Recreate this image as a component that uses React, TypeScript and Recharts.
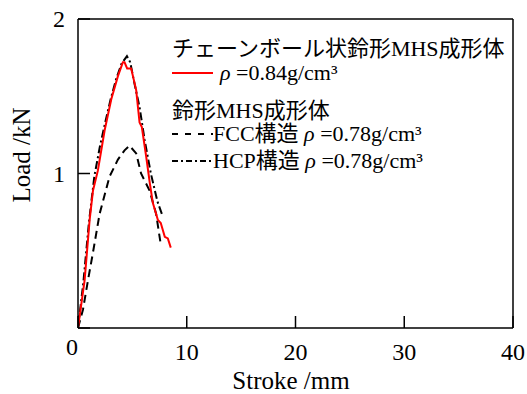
import { LineChart, Line, XAxis, YAxis, ReferenceLine } from 'recharts'

// チェーンボール状鈴形MHS成形体 ρ=0.84
const redX = [0, 0.61, 1.07, 1.38, 1.83, 2.45, 3.06, 3.67, 4.13, 4.28, 4.52, 4.89, 5.35, 5.66, 5.87, 6.27, 6.6, 6.88, 7.34, 7.61, 7.98, 8.26, 8.53]
const redY = [0, 0.31, 0.7, 0.89, 1.02, 1.28, 1.48, 1.63, 1.72, 1.72, 1.68, 1.68, 1.54, 1.33, 1.3, 1.11, 0.94, 0.81, 0.7, 0.68, 0.59, 0.58, 0.52]

// FCC構造 ρ=0.78
const fccX = [0, 0.46, 0.92, 1.38, 1.99, 2.9, 3.67, 4.28, 4.74, 5.35, 5.8, 6.58, 7.18, 7.59]
const fccY = [0, 0.12, 0.31, 0.49, 0.74, 0.98, 1.09, 1.15, 1.18, 1.13, 1.0, 0.89, 0.74, 0.55]

// HCP構造 ρ=0.78
const hcpX = [0, 0.5, 1.0, 1.5, 2.0, 2.5, 3.0, 3.5, 4.0, 4.5, 4.8, 5.2, 5.66, 6.12, 6.7, 7.3, 7.8]
const hcpY = [0, 0.3, 0.68, 0.98, 1.17, 1.33, 1.48, 1.61, 1.71, 1.76, 1.72, 1.58, 1.43, 1.22, 1.0, 0.82, 0.72]

const xTicks = [0, 10, 20, 30, 40]
const yTicks = [0, 1, 2]

const toPoints = (xs: number[], ys: number[]) => xs.map((x, i) => ({ x, y: ys[i] }))

const serif = '"Liberation Serif", "Noto Sans CJK JP", serif'

const XTick = (props: any) => {
    const { x, y, payload } = props
    const isZero = payload.value === 0
    return (
        <g>
            <line x1={x} y1={y} x2={x} y2={y - 12} stroke="#000" strokeWidth={1.5} />
            <text
                x={isZero ? x - 6 : x}
                y={isZero ? y + 27 : y + 32}
                textAnchor="middle"
                fontFamily={serif}
                fontSize={24}
                fill="#000"
            >
                {payload.value}
            </text>
        </g>
    )
}

const YTick = (props: any) => {
    const { x, y, payload } = props
    return (
        <g>
            <line x1={x} y1={y} x2={x + 12} y2={y} stroke="#000" strokeWidth={1.5} />
            {payload.value !== 0 && (
                <text x={x - 13} y={y + 8} textAnchor="end" fontFamily={serif} fontSize={24} fill="#000">
                    {payload.value}
                </text>
            )}
        </g>
    )
}

const row = (top: number): React.CSSProperties => ({
    position: 'absolute',
    left: 172,
    top,
    height: 24,
    lineHeight: '24px',
    whiteSpace: 'nowrap',
    display: 'flex',
    alignItems: 'center',
})

const Sample = ({ color, dash }: { color: string; dash?: string }) => (
    <svg width={41} height={24} style={{ display: 'block' }}>
        <line x1={0} y1={12} x2={41} y2={12} stroke={color} strokeWidth={2} strokeDasharray={dash} />
    </svg>
)

export default function App() {
    return (
        <div style={{ position: 'absolute', left: 0, top: 0, width: 527, height: 394, background: '#fff', fontFamily: serif, color: '#000' }}>
            <LineChart width={527} height={394} margin={{ top: 19, right: 14, bottom: 26, left: 48 }}>
                <XAxis
                    type="number"
                    dataKey="x"
                    domain={[0, 40]}
                    ticks={xTicks}
                    height={40}
                    tickSize={0}
                    tickMargin={0}
                    tick={<XTick />}
                    axisLine={{ stroke: '#000', strokeWidth: 1.5 }}
                    allowDataOverflow
                />
                <YAxis
                    type="number"
                    dataKey="y"
                    domain={[0, 2]}
                    ticks={yTicks}
                    width={30}
                    tickSize={0}
                    tickMargin={0}
                    tick={<YTick />}
                    axisLine={{ stroke: '#000', strokeWidth: 1.5 }}
                    allowDataOverflow
                />
                <ReferenceLine y={2} stroke="#000" strokeWidth={1.5} />
                <ReferenceLine x={40} stroke="#000" strokeWidth={1.5} />
                <Line
                    data={toPoints(fccX, fccY)}
                    dataKey="y"
                    type="linear"
                    stroke="#000"
                    strokeWidth={2}
                    strokeDasharray="8 5"
                    dot={false}
                    isAnimationActive={false}
                />
                <Line
                    data={toPoints(hcpX, hcpY)}
                    dataKey="y"
                    type="linear"
                    stroke="#000"
                    strokeWidth={2}
                    strokeDasharray="8 3 2 3"
                    dot={false}
                    isAnimationActive={false}
                />
                <Line
                    data={toPoints(redX, redY)}
                    dataKey="y"
                    type="linear"
                    stroke="#ff0000"
                    strokeWidth={2}
                    dot={false}
                    isAnimationActive={false}
                />
            </LineChart>

            {/* axis titles */}
            <div style={{ position: 'absolute', left: 291, top: 381, transform: 'translate(-50%, -50%)', fontSize: 25, whiteSpace: 'nowrap' }}>
                Stroke /mm
            </div>
            <div style={{ position: 'absolute', left: 22, top: 155, transform: 'translate(-50%, -50%) rotate(-90deg)', fontSize: 25, whiteSpace: 'nowrap' }}>
                Load /kN
            </div>

            {/* legend */}
            <div style={{ fontSize: 22 }}>
                <div style={row(37)}>チェーンボール状鈴形MHS成形体</div>
                <div style={row(61)}>
                    <Sample color="#ff0000" />
                    <span style={{ marginLeft: 7 }}>
                        <i>ρ</i> =0.84g/cm³
                    </span>
                </div>
                <div style={row(99)}>鈴形MHS成形体</div>
                <div style={row(122)}>
                    <Sample color="#000" dash="6 7" />
                    <span>
                        FCC構造 <i>ρ</i> =0.78g/cm³
                    </span>
                </div>
                <div style={row(149)}>
                    <Sample color="#000" dash="6 3 2 3" />
                    <span>
                        HCP構造 <i>ρ</i> =0.78g/cm³
                    </span>
                </div>
            </div>
        </div>
    )
}
